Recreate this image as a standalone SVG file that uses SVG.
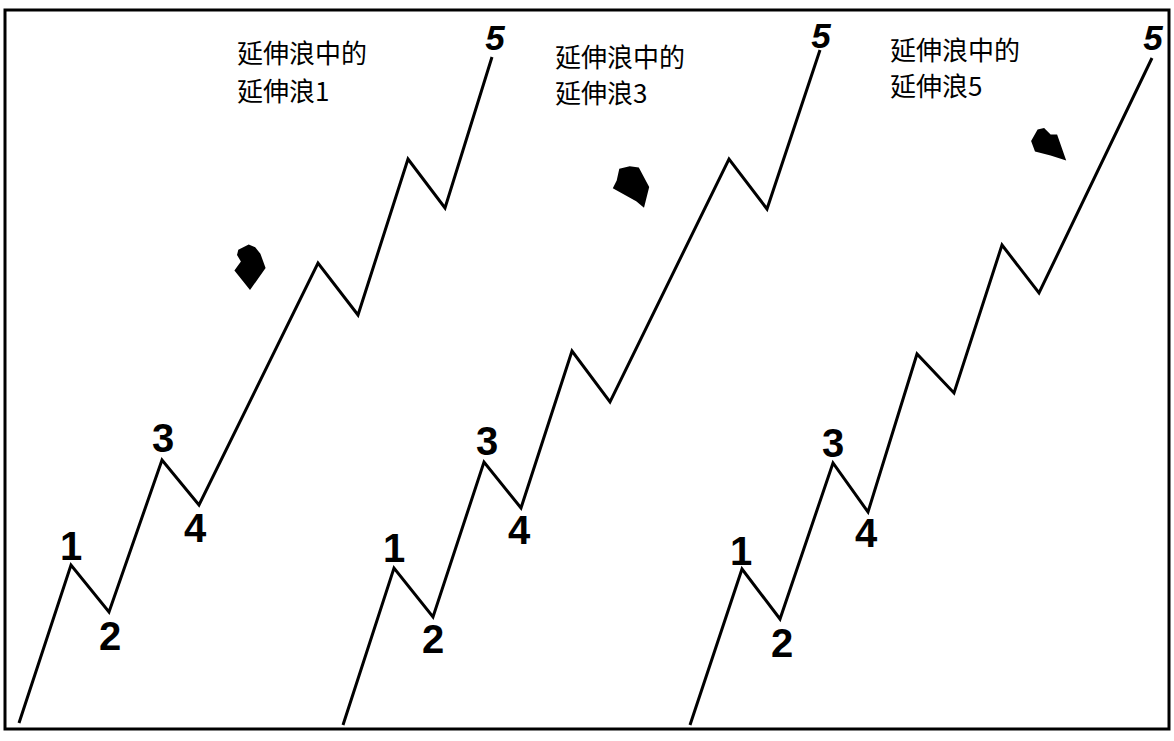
<svg xmlns="http://www.w3.org/2000/svg" width="1174" height="741" viewBox="0 0 1174 741">
<style>
.wave{fill:none;stroke:#000;stroke-width:3;stroke-linejoin:miter;stroke-linecap:butt}
.frame{fill:none;stroke:#000;stroke-width:3}
.cap{font-family:"Noto Sans CJK SC","Noto Sans",sans-serif;font-size:26px;fill:#000}
.num{font-family:"Liberation Sans",Arial,sans-serif;font-weight:bold;font-size:40px;fill:#000;text-anchor:middle}
.top{font-family:"Liberation Sans",Arial,sans-serif;font-weight:bold;font-style:italic;font-size:35px;fill:#000;text-anchor:middle}
.arr{fill:#000}
</style>
<rect width="1174" height="741" fill="#fff"/>
<rect class="frame" x="5" y="10" width="1164" height="719"/>
<g id="connectors">
<polyline class="wave" points="19,723 71,565 109,612 162,460 199,505 318,263 358,315 408,159 445,208 492,57"/>
<polyline class="wave" points="343,725 394,568 433,617 484,462 521,508 572,351 610,402 729,159 767,209 820,50"/>
<polyline class="wave" points="690,725 742,569 780,619 833,463 868,512 917,354 954,393 1002,245 1039,293 1152,58"/>
</g>
<g id="wave1">
<text class="cap" x="237" y="63">延伸浪中的</text>
<text class="cap" x="237" y="101">延伸浪1</text>
<polygon class="arr" transform="translate(250,268) scale(1.3) translate(-250,-268)" points="241,254 249,250 254,252 258,257 262,268 250,285 238,270 243,263 240,258"/>
<text class="num" x="71" y="560">1</text>
<text class="num" x="110" y="650">2</text>
<text class="num" x="163" y="452">3</text>
<text class="num" x="195" y="542">4</text>
<text class="top" x="495" y="50">5</text>
</g>
<g id="wave3">
<text class="cap" x="555" y="67">延伸浪中的</text>
<text class="cap" x="555" y="103">延伸浪3</text>
<polygon class="arr" transform="translate(631,187) scale(1.3) translate(-631,-187)" points="622,173 630,171 637,172 645,187 641,203 635,198 617,188 620,182"/>
<text class="num" x="394" y="562">1</text>
<text class="num" x="433" y="653">2</text>
<text class="num" x="487" y="455">3</text>
<text class="num" x="519" y="544">4</text>
<text class="top" x="821" y="48">5</text>
</g>
<g id="wave5">
<text class="cap" x="890" y="60">延伸浪中的</text>
<text class="cap" x="890" y="96">延伸浪5</text>
<polygon class="arr" transform="translate(1048,145) scale(1.3) translate(-1048,-145)" points="1040,133 1045,132 1050,137 1055,137 1062,157 1050,153 1038,150 1035,142"/>
<text class="num" x="741" y="565">1</text>
<text class="num" x="782" y="657">2</text>
<text class="num" x="833" y="457">3</text>
<text class="num" x="866" y="547">4</text>
<text class="top" x="1153" y="50">5</text>
</g>
</svg>
